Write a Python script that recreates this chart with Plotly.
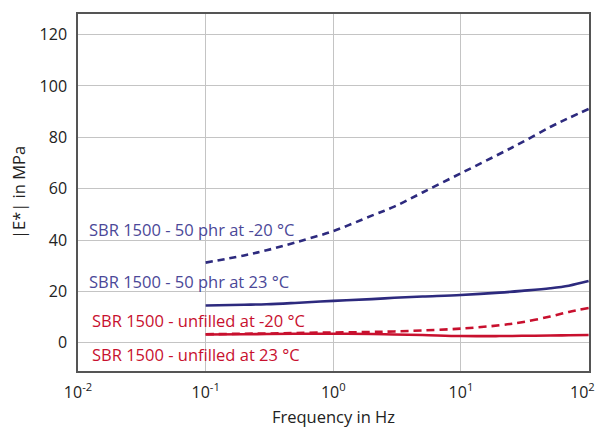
import math
import plotly.graph_objects as go

freq = [0.1, 0.2, 0.3, 0.5, 1, 2, 3, 5, 10, 20, 30, 50, 70, 100]
e_50phr_m20 = [31.2, 34.0, 36.0, 39.0, 43.5, 49.5, 53.0, 58.5, 66.0, 73.5, 78.0, 84.0, 87.5, 91.0]
e_50phr_23 = [14.5, 14.8, 15.0, 15.5, 16.3, 17.0, 17.5, 18.0, 18.6, 19.5, 20.2, 21.2, 22.2, 24.0]
e_unf_m20 = [3.3, 3.5, 3.6, 3.8, 4.0, 4.2, 4.4, 4.8, 5.5, 6.8, 8.0, 10.2, 12.0, 13.5]
e_unf_23 = [3.2, 3.3, 3.4, 3.5, 3.5, 3.4, 3.2, 3.0, 2.6, 2.6, 2.7, 2.8, 2.9, 3.0]

x_tickvals = [0.01, 0.1, 1, 10, 100]
x_ticktext = ["10<sup>-2</sup>", "10<sup>-1</sup>", "10<sup>0</sup>", "10<sup>1</sup>",
              "10<sup>2</sup>\u00a0\u00a0\u00a0"]
y_tickvals = [0, 20, 40, 60, 80, 100, 120]

labels = ["SBR 1500 - 50 phr at -20 °C", "SBR 1500 - 50 phr at 23 °C",
          "SBR 1500 - unfilled at -20 °C", "SBR 1500 - unfilled at 23 °C"]

BLUE = "#2d2a7e"
BLUE_TXT = "#4b4898"
RED = "#c8102e"

fig = go.Figure()
fig.add_trace(go.Scatter(x=freq, y=e_50phr_m20, mode="lines", line=dict(color=BLUE, width=2.6, dash="7px,5px", shape="spline"), showlegend=False))
fig.add_trace(go.Scatter(x=freq, y=e_50phr_23, mode="lines", line=dict(color=BLUE, width=2.6, shape="spline"), showlegend=False))
fig.add_trace(go.Scatter(x=freq, y=e_unf_m20, mode="lines", line=dict(color=RED, width=2.6, dash="8px,5px", shape="spline"), showlegend=False))
fig.add_trace(go.Scatter(x=freq, y=e_unf_23, mode="lines", line=dict(color=RED, width=2.6, shape="spline"), showlegend=False))

ann = [(labels[0], 0.0118, 44, BLUE_TXT), (labels[1], 0.0118, 23.8, BLUE_TXT),
       (labels[2], 0.0125, 8.6, RED), (labels[3], 0.0125, -4.7, RED)]
for t, x, y, c in ann:
    fig.add_annotation(x=math.log10(x), y=y, text=t, showarrow=False, xanchor="left", yanchor="middle",
                       font=dict(family="Open Sans", size=16.5, color=c))

fig.update_layout(
    width=595, height=428,
    margin=dict(l=78, r=6, t=14, b=57),
    paper_bgcolor="white", plot_bgcolor="white",
    font=dict(family="Open Sans", size=16, color="#222"),
)
fig.update_xaxes(type="log", range=[-2, 2.003], tickvals=x_tickvals, ticktext=x_ticktext,
                 showgrid=True, gridcolor="#c4c4c4", gridwidth=1.3,
                 showline=True, linecolor="#555", linewidth=1.5, mirror=True,
                 ticks="", zeroline=False, tickfont=dict(size=16), automargin=False,
                 ticklabeloverflow="allow", ticklabelstandoff=6,
                 title=dict(text="Frequency in Hz", font=dict(size=16.5), standoff=14))
fig.update_yaxes(range=[-11, 128], tickvals=y_tickvals, automargin=False,
                 showgrid=True, gridcolor="#c4c4c4", gridwidth=1.3,
                 showline=True, linecolor="#555", linewidth=1.5, mirror=True,
                 ticks="", zeroline=False, ticklabelstandoff=6, tickfont=dict(size=16),
                 title=dict(text="|E*| in MPa", font=dict(size=16.5), standoff=10))

fig.write_html("out.html")
